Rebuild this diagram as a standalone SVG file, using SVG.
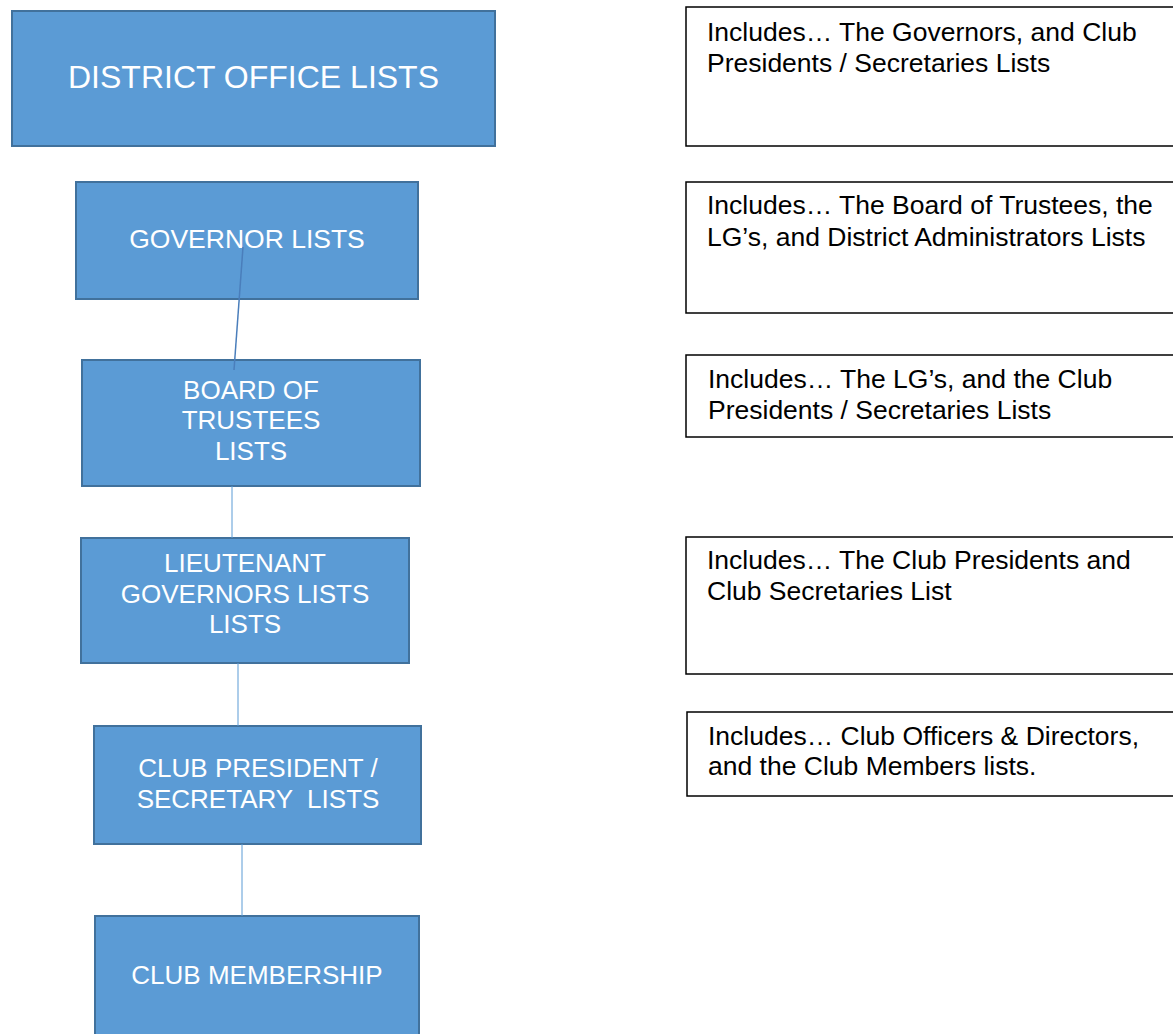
<svg xmlns="http://www.w3.org/2000/svg" width="1173" height="1034" viewBox="0 0 1173 1034">
<style>
.node rect.blue{fill:#5b9bd5;stroke:#41719c;stroke-width:2}
.node rect.note{fill:#ffffff;stroke:#000000;stroke-width:1.5}
.wt{font-family:"Liberation Sans",Arial,sans-serif;fill:#ffffff;text-anchor:middle}
.bt{font-family:"Liberation Sans",Arial,sans-serif;fill:#000000;font-size:26.5px}
.conn line{stroke:#5b9bd5;stroke-width:1}
</style>
<rect width="1173" height="1034" fill="#ffffff"/>
<g id="n-district" class="node">
<rect class="blue" x="12" y="11" width="483" height="135"/>
<text class="wt" x="253.5" y="88" font-size="32">DISTRICT OFFICE LISTS</text>
</g>
<g id="n-governor" class="node">
<rect class="blue" x="76" y="182" width="342" height="117"/>
<text class="wt" x="247" y="248" font-size="26.5">GOVERNOR LISTS</text>
</g>
<g id="n-board" class="node">
<rect class="blue" x="82" y="360" width="338" height="126"/>
<text class="wt" x="251" y="399" font-size="26">BOARD OF</text>
<text class="wt" x="251" y="429" font-size="26">TRUSTEES</text>
<text class="wt" x="251" y="460" font-size="26">LISTS</text>
</g>
<g id="n-lg" class="node">
<rect class="blue" x="81" y="538" width="328" height="125"/>
<text class="wt" x="245" y="572" font-size="26">LIEUTENANT</text>
<text class="wt" x="245" y="603" font-size="26">GOVERNORS LISTS</text>
<text class="wt" x="245" y="633" font-size="26">LISTS</text>
</g>
<g id="n-club-pres" class="node">
<rect class="blue" x="94" y="726" width="327" height="118"/>
<text class="wt" x="258" y="777" font-size="26">CLUB PRESIDENT /</text>
<text class="wt" x="258" y="808" font-size="26" xml:space="preserve">SECRETARY  LISTS</text>
</g>
<g id="n-membership" class="node">
<rect class="blue" x="95" y="916" width="324" height="130"/>
<text class="wt" x="257" y="984" font-size="26">CLUB MEMBERSHIP</text>
</g>
<g id="connectors" class="conn">
<line x1="243" y1="247" x2="234" y2="370" style="stroke:#4a7ebb;stroke-width:1.5"/>
<line x1="232" y1="486" x2="232" y2="538"/>
<line x1="238" y1="663" x2="238" y2="726"/>
<line x1="242" y1="844" x2="242" y2="916"/>
</g>
<g id="note-1" class="node">
<rect class="note" x="686" y="7" width="500" height="139"/>
<text class="bt" x="707" y="41">Includes… The Governors, and Club</text>
<text class="bt" x="707" y="72">Presidents / Secretaries Lists</text>
</g>
<g id="note-2" class="node">
<rect class="note" x="686" y="182" width="500" height="131"/>
<text class="bt" x="707" y="214">Includes… The Board of Trustees, the</text>
<text class="bt" x="707" y="246">LG’s, and District Administrators Lists</text>
</g>
<g id="note-3" class="node">
<rect class="note" x="686" y="355" width="500" height="82"/>
<text class="bt" x="708" y="388">Includes… The LG’s, and the Club</text>
<text class="bt" x="708" y="419">Presidents / Secretaries Lists</text>
</g>
<g id="note-4" class="node">
<rect class="note" x="686" y="537" width="500" height="137"/>
<text class="bt" x="707" y="569">Includes… The Club Presidents and</text>
<text class="bt" x="707" y="600">Club Secretaries List</text>
</g>
<g id="note-5" class="node">
<rect class="note" x="687" y="712" width="500" height="84"/>
<text class="bt" x="708" y="745">Includes… Club Officers &amp; Directors,</text>
<text class="bt" x="708" y="775">and the Club Members lists.</text>
</g>
</svg>
